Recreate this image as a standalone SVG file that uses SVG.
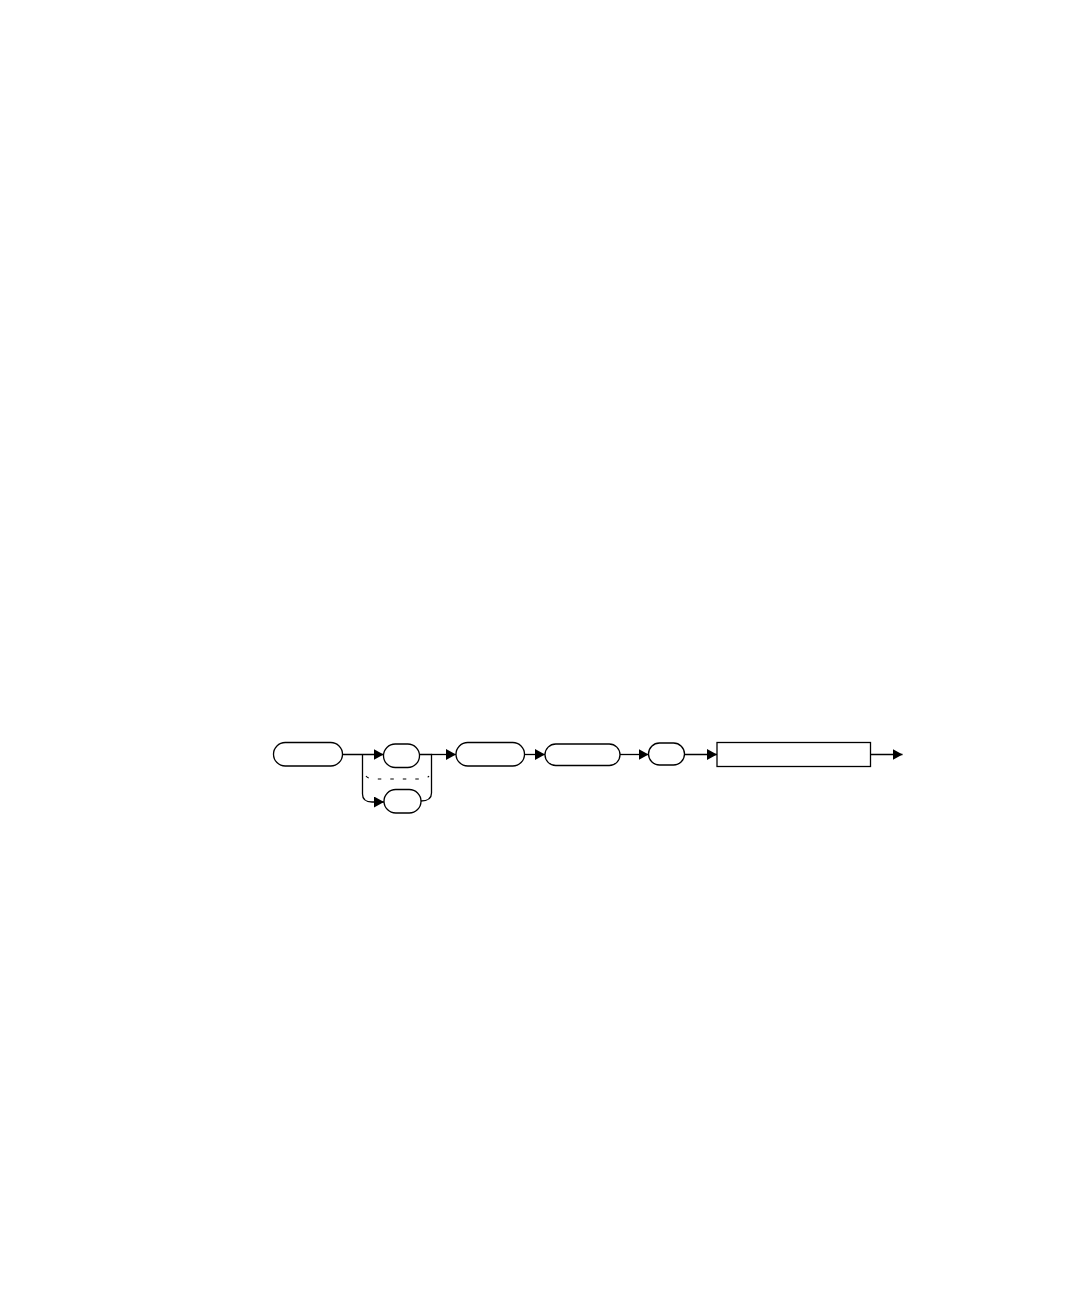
<svg xmlns="http://www.w3.org/2000/svg" width="1080" height="1296" viewBox="0 0 1080 1296">
<defs>
<style>
.n{fill:#fff;stroke:#000;stroke-width:1.3}
.c{fill:none;stroke:#000;stroke-width:1.3}
.d{fill:none;stroke:#000;stroke-width:1.1;stroke-dasharray:3.5 9}
</style>
<marker id="ah" markerWidth="10" markerHeight="11" refX="10" refY="5.5" orient="auto" markerUnits="userSpaceOnUse">
<path d="M0,0 L10,5.5 L0,11 Z" fill="#000"/>
</marker>
</defs>
<rect width="1080" height="1296" fill="#fff"/>
<g id="connectors">
<path class="c" d="M342.5,754.5 H383.5" marker-end="url(#ah)"/>
<path class="c" d="M362.5,754.5 V794 Q362.5,802 372,802 H384" marker-end="url(#ah)"/>
<path class="c" d="M419.5,754.5 H431.5 V793 Q431.5,801 421,801"/>
<path class="c" d="M431.5,754.5 H456" marker-end="url(#ah)"/>
<path class="c" d="M524.5,754.5 H545" marker-end="url(#ah)"/>
<path class="c" d="M620,754.5 H648.5" marker-end="url(#ah)"/>
<path class="c" d="M684.5,754.5 H717" marker-end="url(#ah)"/>
<path class="c" d="M870.5,754.5 H902.5" marker-end="url(#ah)"/>
<path class="d" d="M366,776 Q368,779 376,779 H420 Q427,779 429,776"/>
</g>
<g id="node1"><rect class="n" x="273.5" y="742.5" width="69" height="23.5" rx="11.75"/></g>
<g id="node2"><rect class="n" x="383.5" y="744" width="36" height="23.5" rx="11.75"/></g>
<g id="node3"><rect class="n" x="384" y="789.5" width="37" height="23.5" rx="11.75"/></g>
<g id="node4"><rect class="n" x="456" y="742.5" width="68.5" height="23.5" rx="11.75"/></g>
<g id="node5"><rect class="n" x="545" y="744" width="75" height="21.5" rx="10.75"/></g>
<g id="node6"><rect class="n" x="648.5" y="743" width="36" height="22" rx="11"/></g>
<g id="node7"><rect class="n" x="717" y="742.5" width="153.5" height="24"/></g>
</svg>
